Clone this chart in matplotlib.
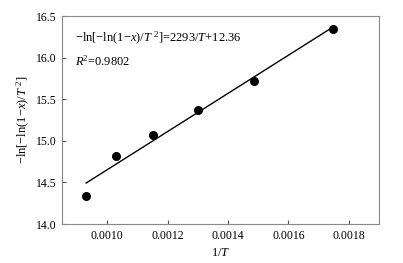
import matplotlib
matplotlib.use("AGG")
import matplotlib.pyplot as plt
import numpy as np

# data
inv_T = [0.00093, 0.00103, 0.00115, 0.00130, 0.001487, 0.001747]
y_vals = [14.34, 14.82, 15.07, 15.37, 15.72, 16.34]
slope = 2293
intercept = 12.36
r2 = 0.9802

plt.rcParams["font.family"] = ["Liberation Serif", "DejaVu Serif"]
plt.rcParams["mathtext.fontset"] = "custom"
plt.rcParams["mathtext.rm"] = "Liberation Serif"
plt.rcParams["mathtext.it"] = "Liberation Serif:italic"

fig = plt.figure(figsize=(4.03, 2.63), dpi=100)
ax = fig.add_axes([62 / 403, 1 - 224 / 263, 317 / 403, 208 / 263])

ax.scatter(inv_T, y_vals, s=30, color="black", zorder=3)
fit_x = np.array([inv_T[0], inv_T[-1]])
ax.plot(fit_x, slope * fit_x + intercept, color="black", lw=1.0)

ax.set_xlim(0.00085, 0.0019)
ax.set_ylim(14.0, 16.5)
ax.set_xticks([0.0010, 0.0012, 0.0014, 0.0016, 0.0018])
ax.set_xticklabels(["0.0010", "0.0012", "0.0014", "0.0016", "0.0018"])
ax.set_yticks([14.0, 14.5, 15.0, 15.5, 16.0, 16.5])
ax.set_yticklabels(["14.0", "14.5", "15.0", "15.5", "16.0", "16.5"])
ax.tick_params(direction="in", length=3, labelsize=8.5, color="#555555", pad=4)

for s in ax.spines.values():
    s.set_color("#888888")
    s.set_linewidth(0.8)

ax.text(0.04, 0.89, r"$-$ln[$-$ln(1$-$$x$)/$T$ $^2$]=2293/$T$+12.36",
        transform=ax.transAxes, fontsize=9, va="center")
ax.text(0.04, 0.78, r"$R$$^2$=0.9802", transform=ax.transAxes,
        fontsize=9, va="center")

ax.set_xlabel(r"1/$T$", fontsize=9, labelpad=4)
ax.set_ylabel(r"$-$ln[$-$ln(1$-$$x$)/$T$ $^2$]", fontsize=9, labelpad=3)

fig.savefig("out.png", dpi=100)
